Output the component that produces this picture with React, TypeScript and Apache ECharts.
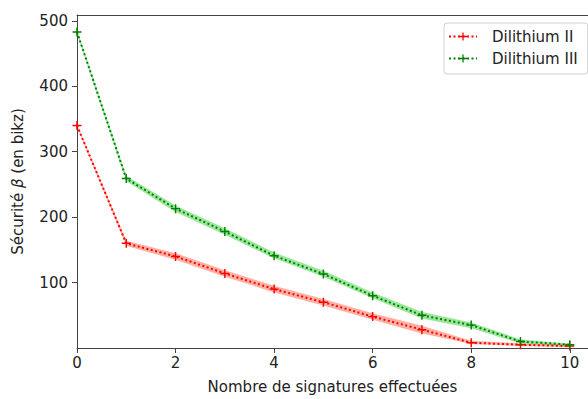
import React, { useEffect, useRef } from "react";
import * as echarts from "echarts";

const xValues = [0, 1, 2, 3, 4, 5, 6, 7, 8, 9, 10];
const xTicks = [0, 2, 4, 6, 8, 10];
const yTicks = [100, 200, 300, 400, 500];

const d2Values = [340, 160, 140, 114, 90, 70, 48, 28, 8, 5, 3];
const d2Lower = [338, 156, 135, 109, 85, 65, 43, 22, 6, 3, 1];
const d2Upper = [342, 164, 145, 119, 95, 75, 53, 34, 11, 7, 5];

const d3Values = [483, 259, 213, 178, 141, 113, 80, 50, 35, 10, 5];
const d3Lower = [480, 255, 208, 173, 137, 109, 76, 45, 30, 7, 3];
const d3Upper = [486, 263, 218, 183, 146, 118, 85, 55, 39, 13, 7];

const FONT = "DejaVu Sans";
const PLUS = "path://M4.2,0H5.8V4.2H10V5.8H5.8V10H4.2V5.8H0V4.2H4.2Z";

function band(name: string, lower: number[], upper: number[], color: string) {
  return {
    name: name + "_band",
    type: "custom",
    data: [[0, 0]],
    silent: true,
    clip: true,
    z: 1,
    renderItem: (params: any, api: any) => {
      const top = xValues.map((x, i) => api.coord([x, upper[i]]));
      const bot = xValues.map((x, i) => api.coord([x, lower[i]])).reverse();
      return {
        type: "polygon",
        shape: { points: top.concat(bot) },
        style: { fill: color, stroke: "none" },
        silent: true,
      };
    },
  };
}

function mainLine(name: string, values: number[], color: string) {
  return {
    name,
    type: "line",
    data: xValues.map((x, i) => [x, values[i]]),
    symbol: PLUS,
    symbolSize: 9,
    showSymbol: true,
    itemStyle: { color },
    lineStyle: { color, width: 2, type: [2, 2.5] },
    z: 3,
  };
}

export default function App() {
  const ref = useRef<HTMLDivElement>(null);
  useEffect(() => {
    if (!ref.current) return;
    const chart = echarts.init(ref.current, null, { renderer: "svg" });
    const axisColor = "#444";
    const textColor = "#222";
    chart.setOption({
      animation: false,
      backgroundColor: "#fff",
      textStyle: { fontFamily: FONT },
      grid: { left: 77, right: 0, top: 15, bottom: 48, containLabel: false },
      legend: {
        data: ["Dilithium II", "Dilithium III"],
        orient: "vertical",
        left: 444,
        top: 23,
        itemWidth: 28,
        itemHeight: 10,
        itemGap: 7,
        padding: [6, 10, 8, 4],
        borderColor: "#d0d0d0",
        borderWidth: 1,
        borderRadius: 3,
        backgroundColor: "#fff",
        textStyle: { fontFamily: FONT, fontSize: 15, color: textColor, padding: [0, 0, 0, 10] },
      },
      xAxis: [
        {
          type: "value",
          min: 0,
          max: 10.37,
          name: "Nombre de signatures effectuées",
          nameLocation: "middle",
          nameGap: 31,
          nameTextStyle: { fontFamily: FONT, fontSize: 15, color: textColor },
          axisLine: { show: true, lineStyle: { color: axisColor, width: 1 } },
          axisTick: { show: true, length: 5, lineStyle: { color: axisColor }, customValues: xTicks },
          axisLabel: { fontFamily: FONT, fontSize: 15, color: textColor, margin: 7, customValues: xTicks },
          splitLine: { show: false },
        },
        {
          type: "value",
          position: "top",
          min: 0,
          max: 10.37,
          axisLine: { show: true, onZero: false, lineStyle: { color: axisColor, width: 1 } },
          axisTick: { show: false },
          axisLabel: { show: false },
          splitLine: { show: false },
        },
      ],
      yAxis: {
        type: "value",
        min: 0,
        max: 509,
        name: "Sécurité {b|β} (en bikz)",
        nameLocation: "middle",
        nameGap: 52,
        nameTextStyle: {
          fontFamily: FONT,
          fontSize: 15,
          color: textColor,
          rich: { b: { fontFamily: FONT, fontSize: 15, fontStyle: "italic", color: textColor } },
        },
        axisLine: { show: true, lineStyle: { color: axisColor, width: 1 } },
        axisTick: { show: true, length: 5, lineStyle: { color: axisColor }, customValues: yTicks },
        axisLabel: { fontFamily: FONT, fontSize: 15, color: textColor, margin: 9, customValues: yTicks },
        splitLine: { show: false },
      },
      series: [
        band("d2", d2Lower, d2Upper, "rgba(255,80,50,0.45)"),
        band("d3", d3Lower, d3Upper, "rgba(30,200,30,0.45)"),
        mainLine("Dilithium II", d2Values, "#ff0000"),
        mainLine("Dilithium III", d3Values, "#008000"),
      ],
    });
    return () => chart.dispose();
  }, []);
  return (
    <div
      ref={ref}
      style={{ position: "absolute", left: 0, top: 0, width: 588, height: 399 }}
    />
  );
}
